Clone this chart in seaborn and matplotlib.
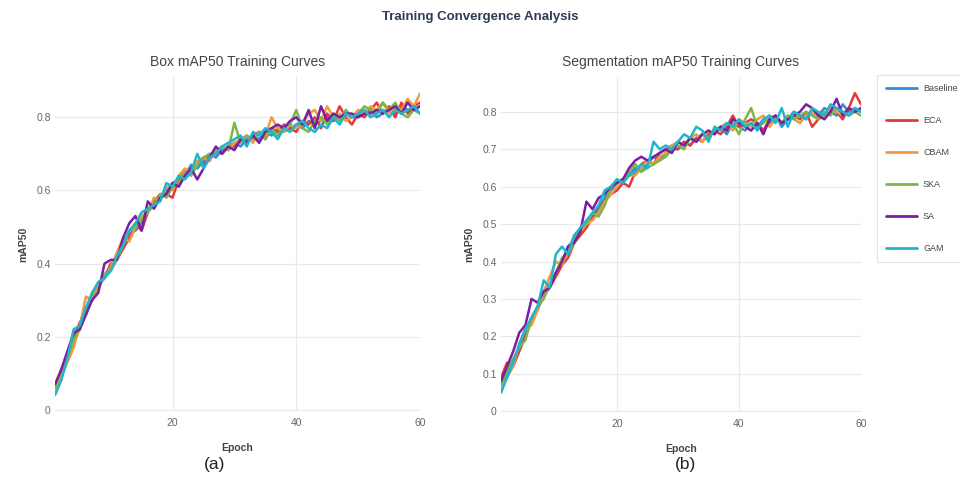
import numpy as np
import pandas as pd
import matplotlib
matplotlib.use("Agg")
import matplotlib.pyplot as plt
import seaborn as sns

models = ["Baseline", "ECA", "CBAM", "SKA", "SA", "GAM"]
colors = ["#328cdc", "#e03a3a", "#f59a3c", "#7ab648", "#7b1fa2", "#1fb5cf"]

box_baseline = [0.05,0.10,0.15,0.21,0.22,0.27,0.31,0.33,0.37,0.39,0.42,0.46,0.48,0.49,0.51,0.55,0.56,0.58,0.60,0.62,
                0.63,0.64,0.67,0.66,0.68,0.70,0.69,0.71,0.72,0.73,0.72,0.74,0.75,0.74,0.76,0.75,0.77,0.76,0.77,0.78,
                0.77,0.79,0.78,0.79,0.80,0.79,0.80,0.81,0.80,0.80,0.81,0.82,0.80,0.81,0.82,0.81,0.83,0.82,0.82,0.83]
box_eca = [0.06,0.09,0.14,0.19,0.24,0.26,0.32,0.34,0.36,0.40,0.41,0.44,0.47,0.51,0.49,0.54,0.57,0.59,0.59,0.58,
           0.63,0.65,0.66,0.68,0.67,0.69,0.71,0.70,0.72,0.72,0.74,0.73,0.75,0.76,0.74,0.77,0.76,0.78,0.77,0.76,
           0.79,0.78,0.80,0.77,0.81,0.79,0.83,0.80,0.78,0.81,0.80,0.82,0.84,0.81,0.83,0.80,0.84,0.81,0.83,0.84]
box_cbam = [0.05,0.09,0.13,0.17,0.23,0.31,0.30,0.34,0.36,0.39,0.43,0.47,0.46,0.50,0.53,0.54,0.58,0.57,0.61,0.60,
            0.64,0.66,0.65,0.68,0.69,0.68,0.71,0.72,0.71,0.73,0.74,0.75,0.73,0.76,0.75,0.80,0.77,0.76,0.78,0.77,
            0.78,0.81,0.82,0.79,0.83,0.80,0.81,0.79,0.80,0.82,0.81,0.83,0.82,0.84,0.81,0.83,0.82,0.85,0.83,0.865]
box_ska = [0.06,0.11,0.14,0.19,0.22,0.28,0.30,0.33,0.37,0.38,0.41,0.45,0.49,0.50,0.52,0.54,0.56,0.59,0.58,0.61,
           0.62,0.65,0.64,0.67,0.69,0.70,0.70,0.72,0.71,0.785,0.73,0.75,0.74,0.76,0.74,0.77,0.75,0.77,0.78,0.82,
           0.77,0.76,0.79,0.80,0.78,0.81,0.79,0.82,0.80,0.81,0.83,0.82,0.81,0.84,0.82,0.84,0.81,0.80,0.82,0.81]
box_sa = [0.07,0.11,0.16,0.21,0.22,0.26,0.30,0.32,0.40,0.41,0.41,0.47,0.51,0.53,0.49,0.57,0.55,0.58,0.59,0.62,
          0.61,0.64,0.66,0.63,0.66,0.69,0.72,0.70,0.72,0.71,0.74,0.73,0.75,0.73,0.76,0.77,0.78,0.77,0.79,0.80,
          0.78,0.82,0.77,0.83,0.79,0.81,0.80,0.81,0.81,0.80,0.81,0.81,0.82,0.81,0.82,0.83,0.81,0.84,0.82,0.83]
box_gam = [0.04,0.08,0.14,0.22,0.23,0.28,0.32,0.35,0.36,0.38,0.42,0.45,0.49,0.51,0.54,0.55,0.56,0.57,0.62,0.61,
           0.64,0.63,0.65,0.70,0.66,0.69,0.70,0.72,0.73,0.74,0.75,0.72,0.76,0.75,0.77,0.76,0.74,0.77,0.76,0.78,
           0.79,0.77,0.76,0.78,0.77,0.80,0.78,0.81,0.80,0.81,0.82,0.80,0.81,0.82,0.80,0.82,0.81,0.82,0.83,0.81]

seg_baseline = [0.05,0.10,0.13,0.17,0.21,0.25,0.27,0.31,0.34,0.37,0.40,0.44,0.46,0.48,0.50,0.52,0.54,0.57,0.59,0.61,
                0.62,0.63,0.65,0.64,0.66,0.68,0.67,0.69,0.70,0.70,0.72,0.71,0.73,0.74,0.73,0.75,0.76,0.74,0.77,0.76,
                0.75,0.77,0.76,0.78,0.77,0.79,0.76,0.78,0.80,0.79,0.78,0.80,0.79,0.81,0.80,0.79,0.82,0.80,0.81,0.80]
seg_eca = [0.09,0.13,0.12,0.16,0.20,0.24,0.28,0.31,0.33,0.36,0.39,0.41,0.45,0.47,0.49,0.52,0.55,0.56,0.58,0.59,
           0.61,0.60,0.64,0.66,0.67,0.66,0.69,0.70,0.71,0.70,0.72,0.71,0.73,0.72,0.74,0.75,0.74,0.76,0.79,0.76,
           0.77,0.78,0.77,0.75,0.78,0.79,0.77,0.78,0.79,0.78,0.80,0.76,0.78,0.79,0.81,0.80,0.78,0.81,0.85,0.82]
seg_cbam = [0.06,0.09,0.12,0.18,0.22,0.23,0.27,0.32,0.36,0.40,0.39,0.43,0.47,0.48,0.50,0.51,0.53,0.56,0.58,0.60,
            0.62,0.63,0.63,0.65,0.67,0.66,0.68,0.69,0.71,0.72,0.71,0.73,0.74,0.72,0.75,0.74,0.76,0.77,0.75,0.78,
            0.77,0.76,0.78,0.79,0.76,0.78,0.77,0.79,0.78,0.77,0.79,0.80,0.78,0.79,0.81,0.80,0.79,0.81,0.80,0.81]
seg_ska = [0.07,0.11,0.14,0.17,0.19,0.25,0.28,0.30,0.34,0.37,0.41,0.42,0.45,0.49,0.50,0.53,0.52,0.55,0.60,0.61,
           0.62,0.64,0.66,0.64,0.65,0.66,0.67,0.68,0.70,0.71,0.70,0.73,0.72,0.74,0.73,0.75,0.76,0.75,0.77,0.74,
           0.78,0.81,0.76,0.77,0.79,0.78,0.77,0.79,0.78,0.79,0.80,0.79,0.78,0.80,0.79,0.81,0.80,0.79,0.80,0.79]
seg_sa = [0.08,0.12,0.16,0.21,0.23,0.30,0.29,0.32,0.33,0.37,0.40,0.44,0.45,0.48,0.56,0.54,0.57,0.58,0.60,0.61,
          0.62,0.65,0.67,0.68,0.67,0.68,0.69,0.70,0.69,0.72,0.71,0.73,0.72,0.74,0.75,0.74,0.76,0.75,0.78,0.77,
          0.76,0.75,0.77,0.74,0.78,0.79,0.77,0.78,0.79,0.80,0.82,0.81,0.79,0.78,0.80,0.835,0.79,0.81,0.80,0.81]
seg_gam = [0.05,0.09,0.13,0.18,0.22,0.25,0.28,0.35,0.33,0.42,0.44,0.42,0.47,0.49,0.51,0.53,0.55,0.59,0.60,0.62,
           0.61,0.63,0.64,0.66,0.65,0.72,0.70,0.71,0.70,0.72,0.74,0.73,0.76,0.75,0.72,0.76,0.75,0.77,0.76,0.78,
           0.76,0.77,0.75,0.78,0.79,0.77,0.81,0.76,0.80,0.79,0.78,0.81,0.80,0.79,0.82,0.81,0.80,0.79,0.81,0.80]

box_ticks = [0, 0.2, 0.4, 0.6, 0.8]
seg_ticks = [0, 0.1, 0.2, 0.3, 0.4, 0.5, 0.6, 0.7, 0.8]
x_ticks = [20, 40, 60]


def to_long(series_list):
    rows = []
    for name, vals in zip(models, series_list):
        for i, v in enumerate(vals):
            rows.append((i + 1, v, name))
    return pd.DataFrame(rows, columns=["Epoch", "mAP50", "Model"])


df_box = to_long([box_baseline, box_eca, box_cbam, box_ska, box_sa, box_gam])
df_seg = to_long([seg_baseline, seg_eca, seg_cbam, seg_ska, seg_sa, seg_gam])

sns.set_theme(style="white")
plt.rcParams["font.family"] = ["Liberation Sans", "DejaVu Sans"]

fig = plt.figure(figsize=(9.6, 4.95), dpi=100)
ax1 = fig.add_axes([55 / 960, 84 / 495, 365 / 960, 334 / 495])
ax2 = fig.add_axes([501 / 960, 83 / 495, 360 / 960, 335 / 495])

palette = dict(zip(models, colors))
text_c = "#444444"
tick_c = "#666666"
grid_c = "#e9e9e9"

for ax, df, yt, ylim, title in [
    (ax1, df_box, box_ticks, (-0.003, 0.91), "Box mAP50 Training Curves"),
    (ax2, df_seg, seg_ticks, (-0.002, 0.893), "Segmentation mAP50 Training Curves"),
]:
    sns.lineplot(data=df, x="Epoch", y="mAP50", hue="Model", palette=palette,
                 hue_order=models, linewidth=1.8, ax=ax, legend=False)
    ax.set_xlim(1, 60)
    ax.set_ylim(*ylim)
    ax.set_xticks(x_ticks)
    ax.set_xticklabels([str(t) for t in x_ticks])
    ax.set_yticks(yt)
    ax.set_yticklabels(["0" if t == 0 else f"{t:g}" for t in yt])
    ax.grid(True, color=grid_c, linewidth=0.9)
    ax.set_axisbelow(True)
    for s in ax.spines.values():
        s.set_visible(False)
    ax.tick_params(axis="both", length=0, labelsize=7.5, colors=tick_c)
    ax.tick_params(axis="x", pad=5)
    ax.tick_params(axis="y", pad=3)
    ax.set_xlabel("Epoch", fontsize=7.5, fontweight="bold", color=text_c, labelpad=11)
    ax.set_ylabel("mAP50", fontsize=7.5, fontweight="bold", color=text_c, labelpad=6)
    ax.set_title(title, fontsize=10, color=text_c, pad=8)

fig.text(0.5, 1 - 17 / 495, "Training Convergence Analysis", ha="center", va="center",
         fontsize=9.5, fontweight="bold", color="#2f3b55")
fig.text(215 / 960, 1 - 464 / 495, "(a)", ha="center", va="center", fontsize=12.5, color="#222222")
fig.text(685 / 960, 1 - 464 / 495, "(b)", ha="center", va="center", fontsize=12.5, color="#222222")

handles = [plt.Line2D([], [], color=c, linewidth=2) for c in colors]
leg = fig.legend(handles, models, loc="upper left", bbox_to_anchor=(877 / 960, 1 - 75 / 495),
                 frameon=True, fontsize=6.5, handlelength=3.4, handletextpad=0.7,
                 labelspacing=2.55, borderpad=1.0, fancybox=False, borderaxespad=0)
leg.get_frame().set_edgecolor("#dddddd")
leg.get_frame().set_linewidth(0.8)
for t in leg.get_texts():
    t.set_color(text_c)

fig.savefig("out.png", dpi=100)
